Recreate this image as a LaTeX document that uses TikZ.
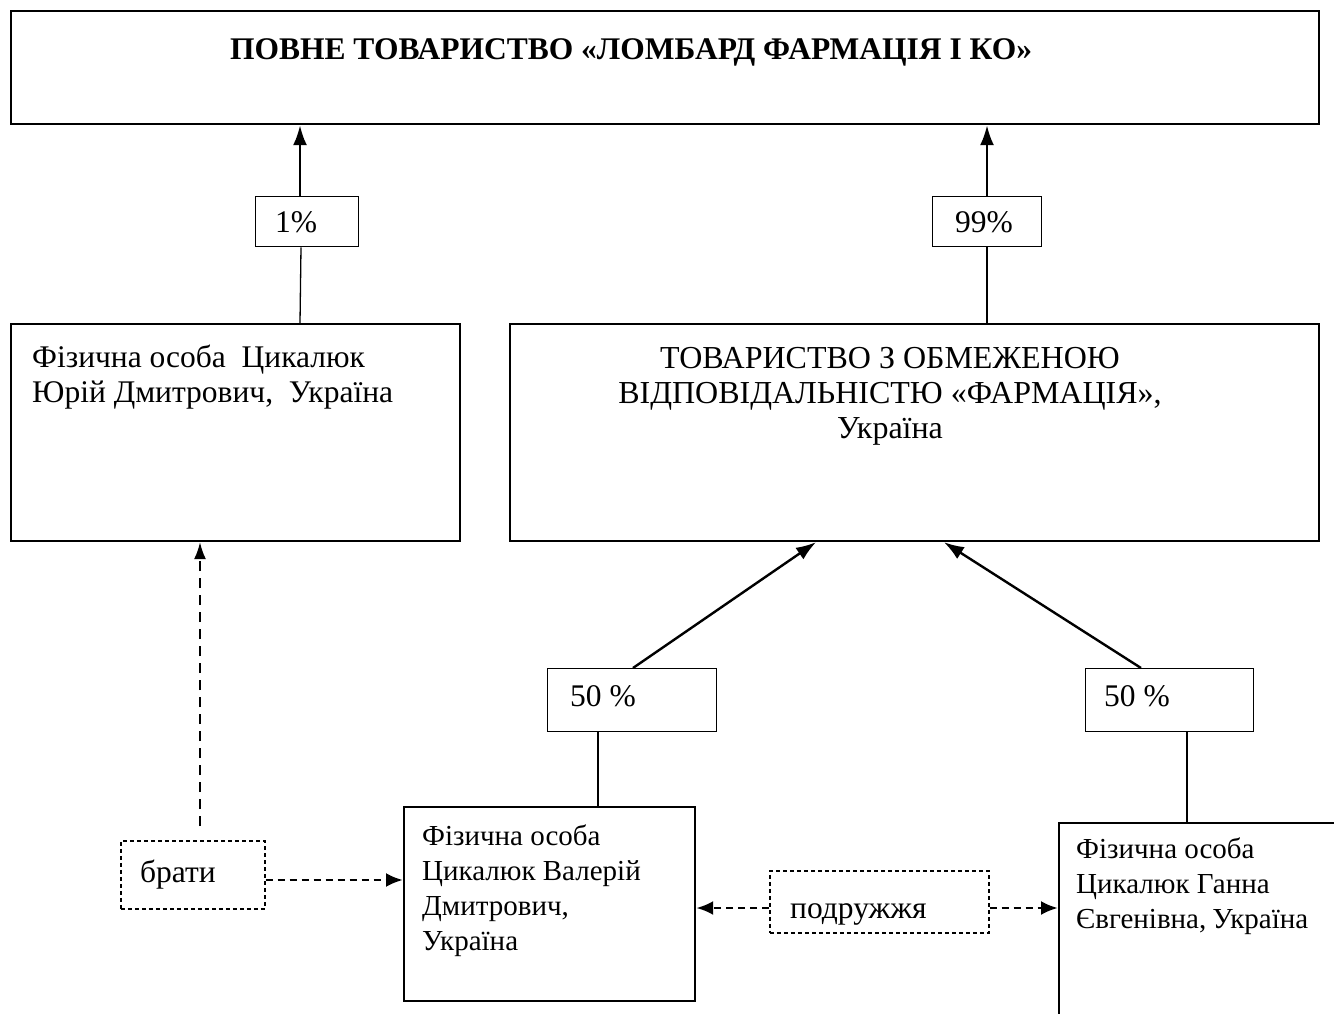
\documentclass[tikz,border=0pt]{standalone}
\usepackage{fontspec}
\setmainfont{Liberation Serif}
\newfontfamily\tnr{Liberation Serif}
\usetikzlibrary{arrows.meta}
\tikzset{
  box/.style={draw, line width=2.2pt, inner sep=0pt, anchor=north west},
  lbox/.style={draw, line width=1.4pt, inner sep=0pt, anchor=north west},
  dbox/.style={draw, line width=1.5pt, dash pattern=on 4pt off 3pt, inner sep=0pt, anchor=north west},
  txt/.style={inner sep=0pt, align=left, font=\tnr\fontsize{31.5}{35}\selectfont},
  stxt/.style={inner sep=0pt, align=left, font=\tnr\fontsize{29}{35}\selectfont},
  ctxt/.style={inner sep=0pt, align=center, font=\tnr\fontsize{31.5}{35}\selectfont},
  thin/.style={line width=1.3pt},
  own/.style={line width=2.6pt, -{Latex[length=20pt,width=14pt]}},
  diag/.style={line width=2.4pt, -{Latex[length=20pt,width=14pt]}},
  rel/.style={line width=1.8pt, dash pattern=on 10pt off 7pt, -{Latex[length=17pt,width=12pt]}},
  relb/.style={line width=2.8pt, dash pattern=on 7pt off 5pt, -{Latex[length=17pt,width=14pt]}},
}
\begin{document}
\begin{tikzpicture}[x=1pt,y=-1pt]
\useasboundingbox (0,0) rectangle (1334,1014);
\clip (0,0) rectangle (1334,1014);
\fill[white] (0,0) rectangle (1334,1014);
% boxes
\node[box, minimum width=1308pt, minimum height=113pt] (top) at (10,10) {};
\node[ctxt, font=\tnr\bfseries\fontsize{31.5}{35}\selectfont, anchor=base] (toptxt) at (631,60) {ПОВНЕ ТОВАРИСТВО «ЛОМБАРД ФАРМАЦІЯ І КО»};
\node[lbox, minimum width=103pt, minimum height=50pt] (p1) at (255,196) {};
\node[ctxt, anchor=base] (p1t) at (296,233) {1\%};
\node[lbox, minimum width=109pt, minimum height=50pt] (p99) at (932,196) {};
\node[ctxt, anchor=base] (p99t) at (984,233) {99\%};
\node[box, minimum width=449pt, minimum height=217pt] (yuri) at (10,323) {};
\node[txt, anchor=base west] (yurit) at (32,402) {Фізична особа\ \ Цикалюк\\Юрій Дмитрович,\ \ Україна};
\node[box, minimum width=809pt, minimum height=217pt] (tov) at (509,323) {};
\node[ctxt, font=\tnr\fontsize{32}{35}\selectfont, anchor=base] (tovt) at (890,438) {ТОВАРИСТВО З ОБМЕЖЕНОЮ\\ВІДПОВІДАЛЬНІСТЮ «ФАРМАЦІЯ»,\\Україна};
\node[lbox, minimum width=169pt, minimum height=63pt] (p50a) at (547,668) {};
\node[ctxt, anchor=base west] (p50at) at (570,706) {50 \%};
\node[lbox, minimum width=168pt, minimum height=63pt] (p50b) at (1085,668) {};
\node[ctxt, anchor=base west] (p50bt) at (1104,706) {50 \%};
\node[box, minimum width=291pt, minimum height=194pt] (val) at (403,806) {};
\node[stxt, anchor=base west] (valt) at (422,950) {Фізична особа\\Цикалюк Валерій\\Дмитрович,\\Україна};
\node[box, minimum width=300pt, minimum height=220pt] (gan) at (1058,822) {};
\node[stxt, anchor=base west] (gant) at (1076,928) {Фізична особа\\Цикалюк Ганна\\Євгенівна,\kern6pt Україна};
\node[dbox, minimum width=144pt, minimum height=68pt] (brat) at (120,840) {};
\node[ctxt, anchor=base west] (bratt) at (140,882) {брати};
\node[dbox, minimum width=219pt, minimum height=62pt] (podr) at (769,870) {};
\node[ctxt, anchor=base west] (podrt) at (790,918) {подружжя};
% connectors
\draw[own] (p1.north -| 300,0) -- (top.south -| 300,0);
\draw[own] (p99.north -| 987,0) -- (top.south -| 987,0);
\draw[thin] (p1.south -| 301,0) -- (yuri.north -| 300,0);
\draw[thin] (p99.south -| 987,0) -- (tov.north -| 987,0);
\draw[diag] (p50a.north -| 633,0) -- (tov.south -| 816,0);
\draw[diag] (p50b.north -| 1141,0) -- (tov.south -| 944,0);
\draw[thin] (p50a.south -| 598,0) -- (val.north -| 598,0);
\draw[thin] (p50b.south -| 1187,0) -- (gan.north -| 1187,0);
\coordinate (bratup) at (200,826);
\draw[rel] (bratup) -- (yuri.south -| 200,0);
\draw[relb] (brat.east |- 0,880) -- (val.west |- 0,880);
\draw[relb] (podr.west |- 0,908) -- (val.east |- 0,908);
\draw[relb] (podr.east |- 0,908) -- (gan.west |- 0,908);
\end{tikzpicture}
\end{document}
